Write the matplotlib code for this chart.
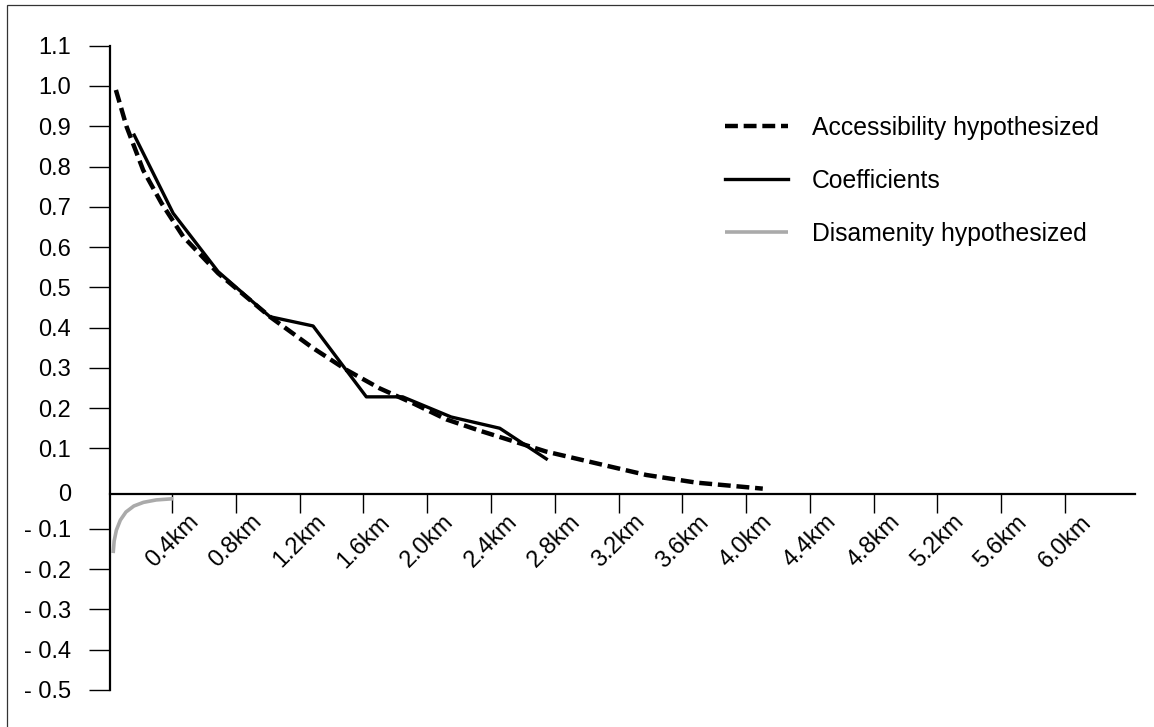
import matplotlib
matplotlib.use("Agg")
import matplotlib.pyplot as plt
from matplotlib.patches import Rectangle

plt.rcParams['font.family'] = ['Liberation Sans', 'DejaVu Sans']

# ---- data (distance in km, value) ----
access_km = [0.047, 0.114, 0.218, 0.333, 0.469, 0.688, 0.95, 1.013, 1.284, 1.493,
             1.702, 1.911, 2.12, 2.329, 2.747, 3.06, 3.374, 3.688, 4.105]
access_val = [0.990, 0.899, 0.791, 0.709, 0.626, 0.535, 0.448, 0.427, 0.349, 0.295,
              0.249, 0.212, 0.172, 0.144, 0.092, 0.063, 0.034, 0.015, 0.0]

coef_km = [0.162, 0.406, 0.688, 1.013, 1.284, 1.618, 1.846, 2.15, 2.455, 2.747]
coef_val = [0.878, 0.684, 0.539, 0.427, 0.404, 0.228, 0.228, 0.178, 0.150, 0.074]

disam_km = [0.030, 0.036, 0.050, 0.075, 0.110, 0.160, 0.220, 0.300, 0.406]
disam_val = [-0.160, -0.130, -0.103, -0.078, -0.058, -0.043, -0.034, -0.028, -0.025]

x_ticks = [0.4, 0.8, 1.2, 1.6, 2.0, 2.4, 2.8, 3.2, 3.6, 4.0, 4.4, 4.8, 5.2, 5.6, 6.0]
x_labels = ["0.4km", "0.8km", "1.2km", "1.6km", "2.0km", "2.4km", "2.8km", "3.2km",
            "3.6km", "4.0km", "4.4km", "4.8km", "5.2km", "5.6km", "6.0km"]
y_ticks = [1.1, 1.0, 0.9, 0.8, 0.7, 0.6, 0.5, 0.4, 0.3, 0.2, 0.1, -0.01,
           -0.1, -0.2, -0.3, -0.4, -0.5]
y_labels = ["1.1", "1.0", "0.9", "0.8", "0.7", "0.6", "0.5", "0.4", "0.3", "0.2", "0.1", "0",
            "- 0.1", "- 0.2", "- 0.3", "- 0.4", "- 0.5"]

W, H = 1154, 727
fig = plt.figure(figsize=(W / 100, H / 100), dpi=100)
ax = fig.add_axes([110 / W, 1 - 690 / H, (1135 - 110) / W, (690 - 45.7) / H])

ax.plot(access_km, access_val, color='black', lw=3.2, dashes=(2.9, 1.3),
        label='Accessibility hypothesized', dash_capstyle='butt')
ax.plot(coef_km, coef_val, color='black', lw=2.4, label='Coefficients')
ax.plot(disam_km, disam_val, color='#aaaaaa', lw=2.6, label='Disamenity hypothesized',
        solid_capstyle='butt')

ax.set_xlim(0.01, 6.44)
ax.set_ylim(-0.5, 1.1)

for s in ['top', 'right']:
    ax.spines[s].set_visible(False)
ax.spines['bottom'].set_position(('data', -0.014))
ax.spines['bottom'].set_linewidth(1.6)
ax.spines['left'].set_linewidth(1.6)

ax.set_xticks(x_ticks)
ax.set_xticklabels(x_labels, rotation=45, ha='center', va='top', fontsize=17)
ax.tick_params(axis='x', direction='out', length=14, width=1.0, pad=-2)

ax.set_yticks(y_ticks)
ax.set_yticklabels(y_labels, fontsize=17)
ax.tick_params(axis='y', direction='out', length=15, width=1.0, pad=13)
for t, v in zip(ax.yaxis.get_major_ticks(), y_ticks):
    if v == -0.01:
        t.tick1line.set_visible(False)

ax.legend(loc='upper left', bbox_to_anchor=(725 / W, 1 - 116 / H),
          bbox_transform=fig.transFigure, frameon=False, fontsize=17.8,
          handlelength=2.55, handletextpad=0.95, labelspacing=1.17, borderpad=0,
          borderaxespad=0)

fig.add_artist(Rectangle((7 / W, -0.2), 2.0, 1.2 - 5 / H, transform=fig.transFigure,
                         fill=False, edgecolor='#333333', lw=0.9))

fig.savefig('out.png', dpi=100)
